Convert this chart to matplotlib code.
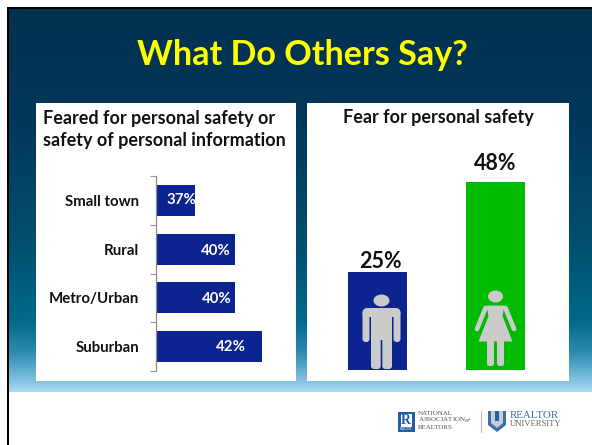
import numpy as np
import matplotlib
matplotlib.use("Agg")
import matplotlib.pyplot as plt
from matplotlib.patches import Rectangle, Ellipse, FancyBboxPatch, Polygon
from matplotlib.colors import LinearSegmentedColormap

title = "What Do Others Say?"
left_title = "Feared for personal safety or\nsafety of personal information"
right_title = "Fear for personal safety"
areas = ["Small town", "Rural", "Metro/Urban", "Suburban"]
area_values = [37, 40, 40, 42]
genders = ["Men", "Women"]
gender_values = [25, 48]

W, H = 592, 445
NAVY = "#0C2490"
GREEN = "#00BB00"
ICON = "#CBCBCB"
DARK = "#111111"
plt.rcParams["font.family"] = ["Lato", "DejaVu Sans"]

fig = plt.figure(figsize=(W / 100, H / 100), dpi=100, facecolor="white")

def axpx(x0, y0, x1, y1, **kw):
    return fig.add_axes([x0 / W, 1 - y1 / H, (x1 - x0) / W, (y1 - y0) / H], **kw)

bg = axpx(0, 0, W, H)
bg.set_zorder(0)
bg.axis("off")
cmap = LinearSegmentedColormap.from_list("bg", [
    (0.0, "#02304F"), (0.3, "#03385A"), (0.62, "#02506F"), (0.82, "#016A8B"),
    (0.9, "#2E8DB0"), (0.98, "#8CC8E6"), (1.0, "#A8DCF2")])
grad = np.linspace(0, 1, 256).reshape(-1, 1)
bg.imshow(grad, extent=(9, W, 392, 9), cmap=cmap, aspect="auto", zorder=0)
bg.set_xlim(0, W); bg.set_ylim(H, 0)
bg.add_patch(Rectangle((7, 7), W - 7, 2.4, fc="black", ec="none", zorder=2))
bg.add_patch(Rectangle((7, 7), 2.4, H - 7, fc="black", ec="none", zorder=2))
bg.add_patch(Rectangle((36, 103), 260, 278, fc="white", ec="none", zorder=1))
bg.add_patch(Rectangle((307, 103), 262, 278, fc="white", ec="none", zorder=1))

bg.text(302, 55, title, color="#FFFF00", fontsize=24.6, fontweight="bold",
        ha="center", va="center", zorder=3)
bg.text(43, 129.5, left_title, color=DARK, fontsize=13, fontweight="bold",
        ha="left", va="center", linespacing=1.36, zorder=3)
bg.text(438, 118, right_title, color=DARK, fontsize=13, fontweight="bold",
        ha="center", va="center", zorder=3)

# Left chart
ax1 = axpx(155.5, 176, 290, 371)
ax1.set_zorder(1)
ax1.patch.set_visible(False)
ypos = np.arange(len(areas))
ax1.barh(ypos, area_values, height=0.64, color=NAVY, edgecolor="none")
ax1.set_xlim(34, 34 + 134.5 / 13.3)
ax1.set_ylim(3.5, -0.5)
ax1.set_yticks(list(ypos - 0.5) + [3.5])
ax1.set_yticklabels([""] * 5)
ax1.tick_params(axis="y", length=4, width=0.8, color="#999999", direction="out")
ax1.set_xticks([])
for s in ["top", "right", "bottom"]:
    ax1.spines[s].set_visible(False)
ax1.spines["left"].set_color("#8C8C8C")
ax1.spines["left"].set_linewidth(0.9)
label_dx = [1.0, -3.0, -2.3, -11.5]
label_dy = [0, -1, -0.5, -0.5]
for y, name, v, dx, dy in zip(ypos, areas, area_values, label_dx, label_dy):
    ax1.annotate(name, (34, y), xytext=(-11.9, -1), textcoords="offset points",
                 ha="right", va="center", fontsize=10.8, fontweight="bold", color=DARK)
    ax1.annotate(f"{v}%", (v, y), xytext=(dx, dy), textcoords="offset points",
                 ha="right", va="center", fontsize=10.8, fontweight="bold", color="white",
                 annotation_clip=False)

# Right chart
ax2 = axpx(307, 135, 569, 370)
ax2.set_zorder(1)
ax2.patch.set_visible(False)
xscale = 118.0
centers = np.arange(len(genders))
ax2.bar(centers, gender_values, width=59 / xscale, color=[NAVY, GREEN])
ax2.set_xlim(-(377.5 - 307) / xscale, (569 - 377.5) / xscale)
ax2.set_ylim(0, 235 / 3.92)
ax2.axis("off")
top_dx = [2, -0.5]
top_dy = [0.3, 5.5]
for x, v, dx, dy in zip(centers, gender_values, top_dx, top_dy):
    ax2.annotate(f"{v}%", (x, v), xytext=(dx, dy), textcoords="offset points",
                 ha="center", va="bottom", fontsize=15.5, fontweight="bold", color=DARK)

# Overlay for icons and footer
fg = axpx(0, 0, W, H)
fg.set_zorder(2)
fg.patch.set_visible(False)
fg.axis("off")
fg.set_xlim(0, W); fg.set_ylim(H, 0)

def man(cx):
    k = dict(fc=ICON, ec="none", zorder=4)
    fg.add_patch(Ellipse((cx, 300.5), 16, 12, **k))
    fg.add_patch(FancyBboxPatch((cx - 19, 308), 38, 9, boxstyle="round,pad=0,rounding_size=5", **k))
    fg.add_patch(FancyBboxPatch((cx - 19, 310), 7, 32, boxstyle="round,pad=0,rounding_size=3", **k))
    fg.add_patch(FancyBboxPatch((cx + 12, 310), 7, 32, boxstyle="round,pad=0,rounding_size=3", **k))
    fg.add_patch(Rectangle((cx - 10.5, 310), 21, 30, **k))
    fg.add_patch(FancyBboxPatch((cx - 10.5, 335), 9.7, 34, boxstyle="round,pad=0,rounding_size=3", **k))
    fg.add_patch(FancyBboxPatch((cx + 0.8, 335), 9.7, 34, boxstyle="round,pad=0,rounding_size=3", **k))

def woman(cx):
    k = dict(fc=ICON, ec="none", zorder=4)
    fg.add_patch(Ellipse((cx, 296.5), 15, 12, **k))
    fg.add_patch(Polygon([(cx - 9, 305.5), (cx + 9, 305.5), (cx + 7, 316), (cx + 17, 341.5),
                          (cx - 17, 341.5), (cx - 7, 316)], closed=True, **k))
    fg.plot([cx - 10, cx - 18.5], [308, 329], color=ICON, lw=3.4, solid_capstyle="round", zorder=4)
    fg.plot([cx + 10, cx + 18.5], [308, 329], color=ICON, lw=3.4, solid_capstyle="round", zorder=4)
    fg.add_patch(FancyBboxPatch((cx - 8.5, 338), 7, 28, boxstyle="round,pad=0,rounding_size=2.5", **k))
    fg.add_patch(FancyBboxPatch((cx + 1.5, 338), 7, 28, boxstyle="round,pad=0,rounding_size=2.5", **k))

man(381.5)
woman(495.5)

# Footer logos
LB = "#1F5FA8"
fg.add_patch(Rectangle((397.5, 411.5), 17, 20, fc=LB, ec="none"))
fg.add_patch(Rectangle((400.5, 413.5), 11, 13, fc="white", ec="none"))
fg.text(406, 420, "R", color=LB, fontsize=10, fontweight="bold", ha="center", va="center",
        family="Liberation Serif")
fg.text(406, 429, "REALTOR", color="white", fontsize=2, ha="center", va="center")
fg.text(418, 420.5, "NATIONAL\nASSOCIATION$_{\\mathit{of}}$\nREALTORS", color="#555555", fontsize=5,
        ha="left", va="center", linespacing=1.0, family="Liberation Serif")
fg.plot([480.5, 480.5], [411, 432], color="#BBBBBB", lw=0.8)
fg.add_patch(Polygon([(488, 411), (506, 411), (506, 425), (497, 432), (488, 425)], closed=True,
                     fc="#3E6EA8", ec="none"))
fg.add_patch(Polygon([(491, 411), (503, 411), (503, 423), (497, 428), (491, 423)], closed=True,
                     fc="#C5CCD6", ec="none"))
fg.add_patch(Rectangle((495, 411), 4, 10, fc=LB, ec="none"))
fg.text(510, 415, "REALTOR", color="#3E6EA8", fontsize=7.8, ha="left", va="center",
        family="Liberation Serif")
fg.text(510, 424, "UNIVERSITY", color="#666666", fontsize=6.2, ha="left", va="center",
        family="Liberation Serif")

fig.savefig("out.png", dpi=100, facecolor="white")
